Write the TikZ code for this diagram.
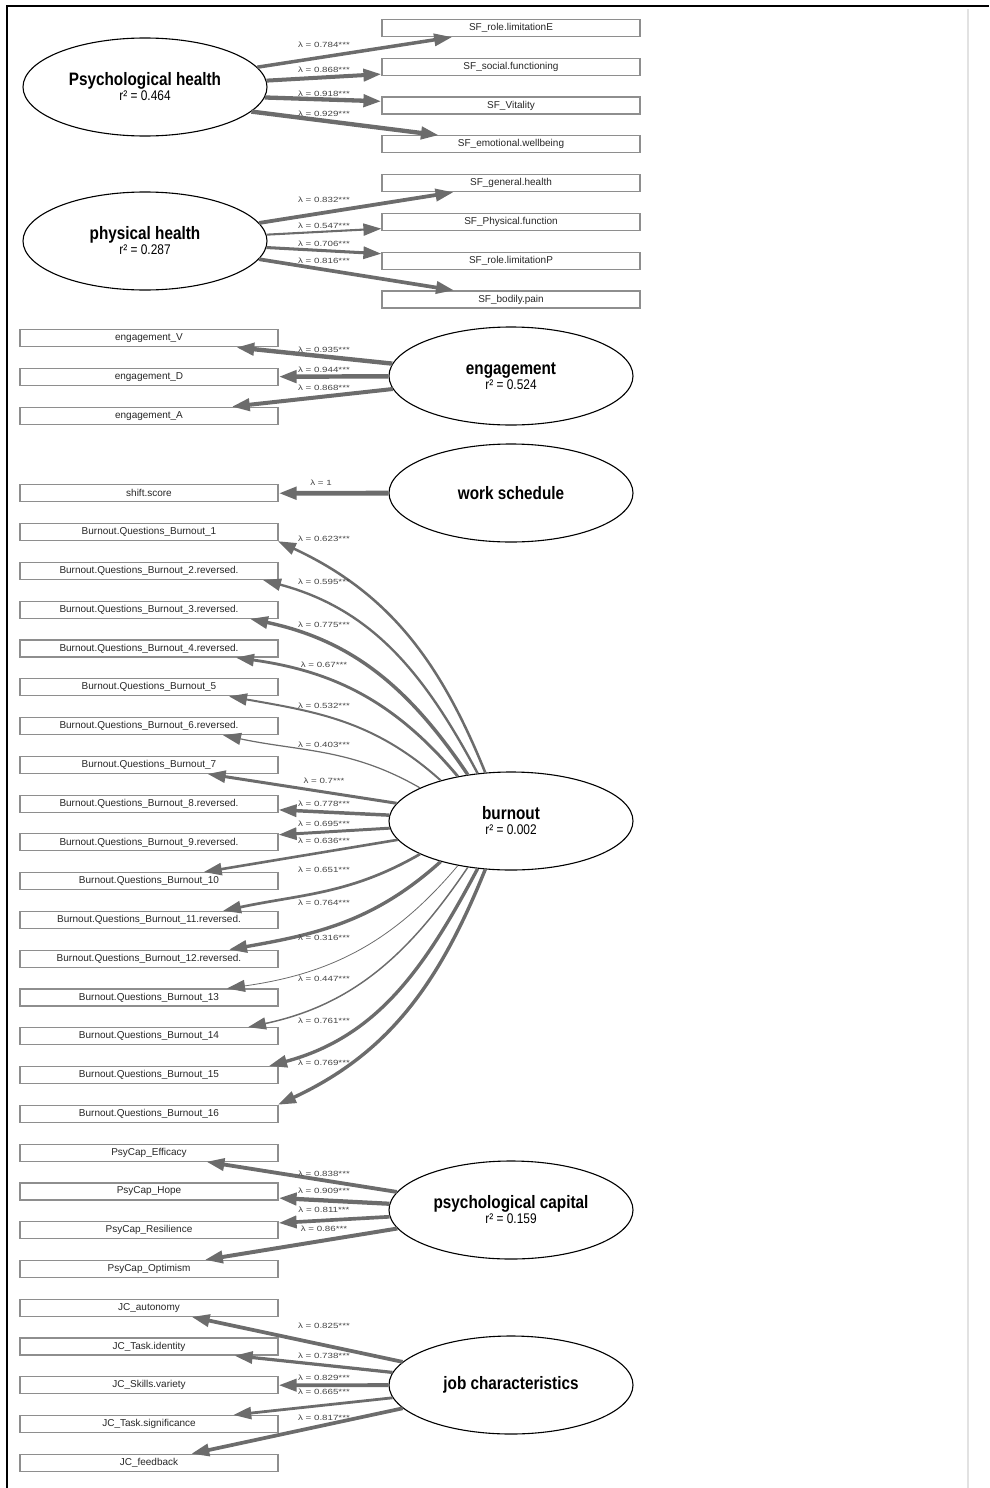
\documentclass[tikz,border=0pt]{standalone}
\usepackage{fontspec}
\setmainfont{Liberation Sans}
\newfontfamily\latfont{Liberation Sans}[FakeStretch=0.85]
\newfontfamily\lamfont{Liberation Sans}[FakeStretch=1.3]
\usetikzlibrary{shapes.geometric,arrows.meta}

\definecolor{edgegray}{HTML}{6C6C6C}
\definecolor{boxgray}{HTML}{8E8E8E}
\definecolor{labgray}{HTML}{444444}
\definecolor{framegray}{HTML}{E2E2E2}

\tikzset{
  manifest/.style={draw=boxgray,line width=1.2pt,minimum width=258pt,minimum height=17pt,inner sep=0pt,font=\fontsize{10}{10}\selectfont,text=black!85},
  latent/.style={ellipse,draw,line width=1.1pt,minimum width=244pt,minimum height=98pt,inner sep=0pt,align=center,font=\latfont\fontsize{14}{14}\selectfont},
  loading/.style={draw=edgegray,-{Triangle[length=18pt,width=12pt]}},
  lam/.style={font=\lamfont\fontsize{7.5}{7.5}\selectfont,text=labgray,inner sep=0pt}
}
\newcommand{\lvname}[1]{{\bfseries\fontsize{18}{18}\selectfont #1}}

\begin{document}
\begin{tikzpicture}[x=1pt,y=1pt]
\useasboundingbox (0,0) rectangle (989,-1488);
\draw[line width=1.5pt] (7,-1488) -- (7,-6) -- (989,-6);
\draw[framegray,line width=2pt] (968,-9) -- (968,-1488);

% latent variables
\node[latent] (psy) at (145,-87) {\lvname{Psychological health}\\[1pt]r² = 0.464};
\node[latent] (phy) at (145,-241) {\lvname{physical health}\\[1pt]r² = 0.287};
\node[latent] (eng) at (511,-376) {\lvname{engagement}\\[1pt]r² = 0.524};
\node[latent] (ws) at (511,-493) {\lvname{work schedule}};
\node[latent] (burn) at (511,-821) {\lvname{burnout}\\[1pt]r² = 0.002};
\node[latent] (cap) at (511,-1210) {\lvname{psychological capital}\\[1pt]r² = 0.159};
\node[latent] (job) at (511,-1385) {\lvname{job characteristics}};

% indicators, one row every 38.78pt
\foreach \n/\t [count=\k from 0] in {sfE/SF\_role.limitationE,sfS/SF\_social.functioning,sfV/SF\_Vitality,sfW/SF\_emotional.wellbeing,
  sfG/SF\_general.health,sfF/SF\_Physical.function,sfP/SF\_role.limitationP,sfB/SF\_bodily.pain}
  \node[manifest] (\n) at (511,{-28-38.78*\k}) {\t};
\foreach \n/\t/\k in {enV/engagement\_V/8,enD/engagement\_D/9,enA/engagement\_A/10,sh/shift.score/12,
  pcE/PsyCap\_Efficacy/29,pcH/PsyCap\_Hope/30,pcR/PsyCap\_Resilience/31,pcO/PsyCap\_Optimism/32,
  jcA/JC\_autonomy/33,jcI/JC\_Task.identity/34,jcV/JC\_Skills.variety/35,jcS/JC\_Task.significance/36,jcF/JC\_feedback/37}
  \node[manifest] (\n) at (149,{-28-38.78*\k}) {\t};
\foreach \i/\t in {1/1,2/2.reversed.,3/3.reversed.,4/4.reversed.,5/5,6/6.reversed.,7/7,8/8.reversed.,
  9/9.reversed.,10/10,11/11.reversed.,12/12.reversed.,13/13,14/14,15/15,16/16}
  \node[manifest] (bo\i) at (149,{-28-38.78*(12+\i)}) {Burnout.Questions\_Burnout\_\t};

% loadings
\foreach \f/\t/\l in {psy.10/sfE/0.784,psy.3/sfS/0.868,psy.-5/sfV/0.918,psy.-13/sfW/0.929,
  phy/sfG/0.832,phy/sfF/0.547,phy/sfP/0.706,phy/sfB/0.816,
  eng/enV/0.935,eng/enD/0.944,eng/enA/0.868,ws/sh/1,
  burn/bo7/0.7,burn/bo8/0.778,burn/bo9/0.695,burn/bo10/0.636,
  cap/pcE/0.838,cap/pcH/0.909,cap/pcR/0.811,cap/pcO/0.86,
  job/jcA/0.825,job/jcI/0.738,job/jcV/0.829,job/jcS/0.665,job/jcF/0.817}
  {\pgfmathsetmacro\w{max(0.8,6*\l-1.2)}
   \draw[loading,line width=\w pt] (\f) -- (\t);}
\foreach \i/\l/\an/\ao/\ai/\s/\dx in {1/0.623/118/112/-25/south/129,2/0.595/125/118/-15/south/114,
  3/0.775/133/124/-12/south/101,4/0.67/140/130/-8/south/87,5/0.532/150/138/-10/south/80,
  6/0.403/160/150/-12/south/74,11/0.651/200/210/12/north/74,12/0.764/210/222/10/north/80,
  13/0.316/220/230/8/north/78,14/0.447/227/236/12/north/99,15/0.761/235/242/15/north/120,
  16/0.769/242/248/25/north/129}
  {\pgfmathsetmacro\w{max(0.8,6*\l-1.2)}
   \draw[loading,line width=\w pt] (burn.\an) to[out=\ao,in=\ai] ([xshift=\dx pt]bo\i.\s);}

% loading labels
\foreach \y/\l [count=\c] in {45/0.784,70/0.868,94/0.918,114/0.929,200/0.832,226/0.547,244/0.706,261/0.816,
  350/0.935,370/0.944,388/0.868,539/0.623,582/0.595,625/0.775,665/0.67,706/0.532,745/0.403,781/0.7,
  804/0.778,824/0.695,841/0.636,870/0.651,903/0.764,938/0.316,979/0.447,1021/0.761,1063/0.769,
  1174/0.838,1191/0.909,1210/0.811,1229/0.86,1326/0.825,1356/0.738,1378/0.829,1392/0.665,1418/0.817}
  \node[lam] (lb\c) at (324,-\y) {λ = \l***};
\node[lam] (lbws) at (321,-483) {λ = 1};
\end{tikzpicture}
\end{document}
